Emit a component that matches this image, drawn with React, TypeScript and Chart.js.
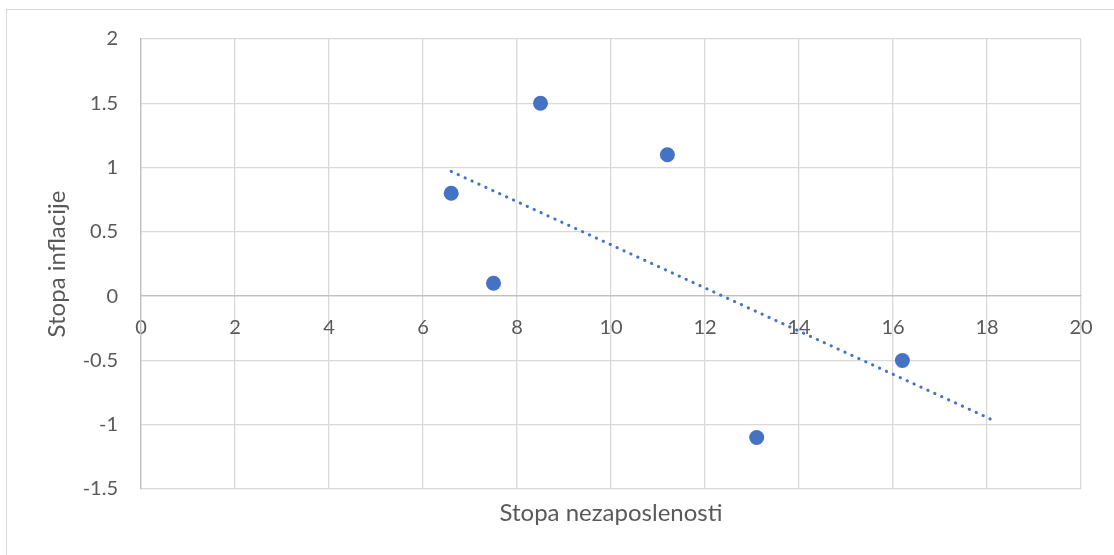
import { useEffect, useRef } from "react";
import { Chart, registerables } from "chart.js";

Chart.register(...registerables);

// Podaci očitani sa slike
const unemployment = [6.6, 7.5, 8.5, 11.2, 13.1, 16.2];
const inflation = [0.8, 0.1, 1.5, 1.1, -1.1, -0.5];
// linija trenda (dva kraja)
const trendX = [6.6, 18.1];
const trendY = [0.97, -0.96];

const xTitle = "Stopa nezaposlenosti";
const yTitle = "Stopa inflacije";

const FONT = "Lato, 'Open Sans', sans-serif";
const TEXT = "#595959";
const BLUE = "#4472C4";

export default function App() {
  const canvasRef = useRef<HTMLCanvasElement | null>(null);
  const chartRef = useRef<Chart | null>(null);

  useEffect(() => {
    if (!canvasRef.current) return;
    if (chartRef.current) chartRef.current.destroy();

    chartRef.current = new Chart(canvasRef.current, {
      type: "scatter",
      data: {
        datasets: [
          {
            label: "Podaci",
            data: unemployment.map((x, i) => ({ x, y: inflation[i] })),
            backgroundColor: BLUE,
            borderWidth: 0,
            pointRadius: 7.5,
          },
          {
            label: "Trend",
            data: trendX.map((x, i) => ({ x, y: trendY[i] })),
            showLine: true,
            borderColor: BLUE,
            borderWidth: 3,
            borderCapStyle: "round",
            borderDash: [0.3, 7.3],
            pointRadius: 0,
          },
        ],
      },
      options: {
        responsive: false,
        animation: false,
        layout: { padding: { left: 0, top: 39, right: 33, bottom: 0 } },
        plugins: { legend: { display: false }, tooltip: { enabled: false } },
        scales: {
          x: {
            type: "linear",
            axis: "x",
            position: { y: 0 },
            min: 0,
            max: 20,
            ticks: {
              stepSize: 2,
              color: TEXT,
              font: { family: FONT, size: 20 },
              padding: 19,
              maxRotation: 0,
              callback: (v) => String(v),
            },
            grid: { color: "#d9d9d9", lineWidth: 1.3, drawTicks: false },
            border: { color: "#bfbfbf", width: 1.3 },
          },
          x2: {
            type: "linear",
            axis: "x",
            position: "bottom",
            ticks: { display: false },
            grid: { display: false },
            border: { display: false },
            title: {
              display: true,
              text: xTitle,
              color: TEXT,
              font: { family: FONT, size: 24 },
              padding: { top: 0, bottom: 27 },
            },
            afterFit: (scale) => {
              scale.height = 66;
            },
          },
          y: {
            type: "linear",
            min: -1.5,
            max: 2,
            ticks: {
              stepSize: 0.5,
              color: TEXT,
              font: { family: FONT, size: 20 },
              padding: 23,
              callback: (v) => String(v),
            },
            grid: {
              color: (ctx) => (ctx.tick && ctx.tick.value === 0 ? "#bfbfbf" : "#d9d9d9"),
              lineWidth: 1.3,
              drawTicks: false,
            },
            border: { color: "#bfbfbf", width: 1.3 },
            title: {
              display: true,
              text: yTitle,
              color: TEXT,
              font: { family: FONT, size: 24 },
              padding: { top: 43, bottom: 0 },
            },
            afterFit: (scale) => {
              scale.width = 141;
            },
          },
        },
      },
    });

    return () => {
      if (chartRef.current) {
        chartRef.current.destroy();
        chartRef.current = null;
      }
    };
  }, []);

  return (
    <div
      style={{
        position: "fixed",
        left: 0,
        top: 0,
        width: 1114,
        height: 555,
        overflow: "hidden",
        background: "#fff",
      }}
    >
      {/* okvir grafikona, izlazi izvan slike desno i dolje */}
      <div
        style={{
          position: "absolute",
          left: 6,
          top: 9,
          width: 1200,
          height: 700,
          border: "1.3px solid #d9d9d9",
        }}
      />
      <canvas
        ref={canvasRef}
        width={1114}
        height={555}
        style={{ position: "absolute", left: 0, top: 0, display: "block" }}
      />
    </div>
  );
}
